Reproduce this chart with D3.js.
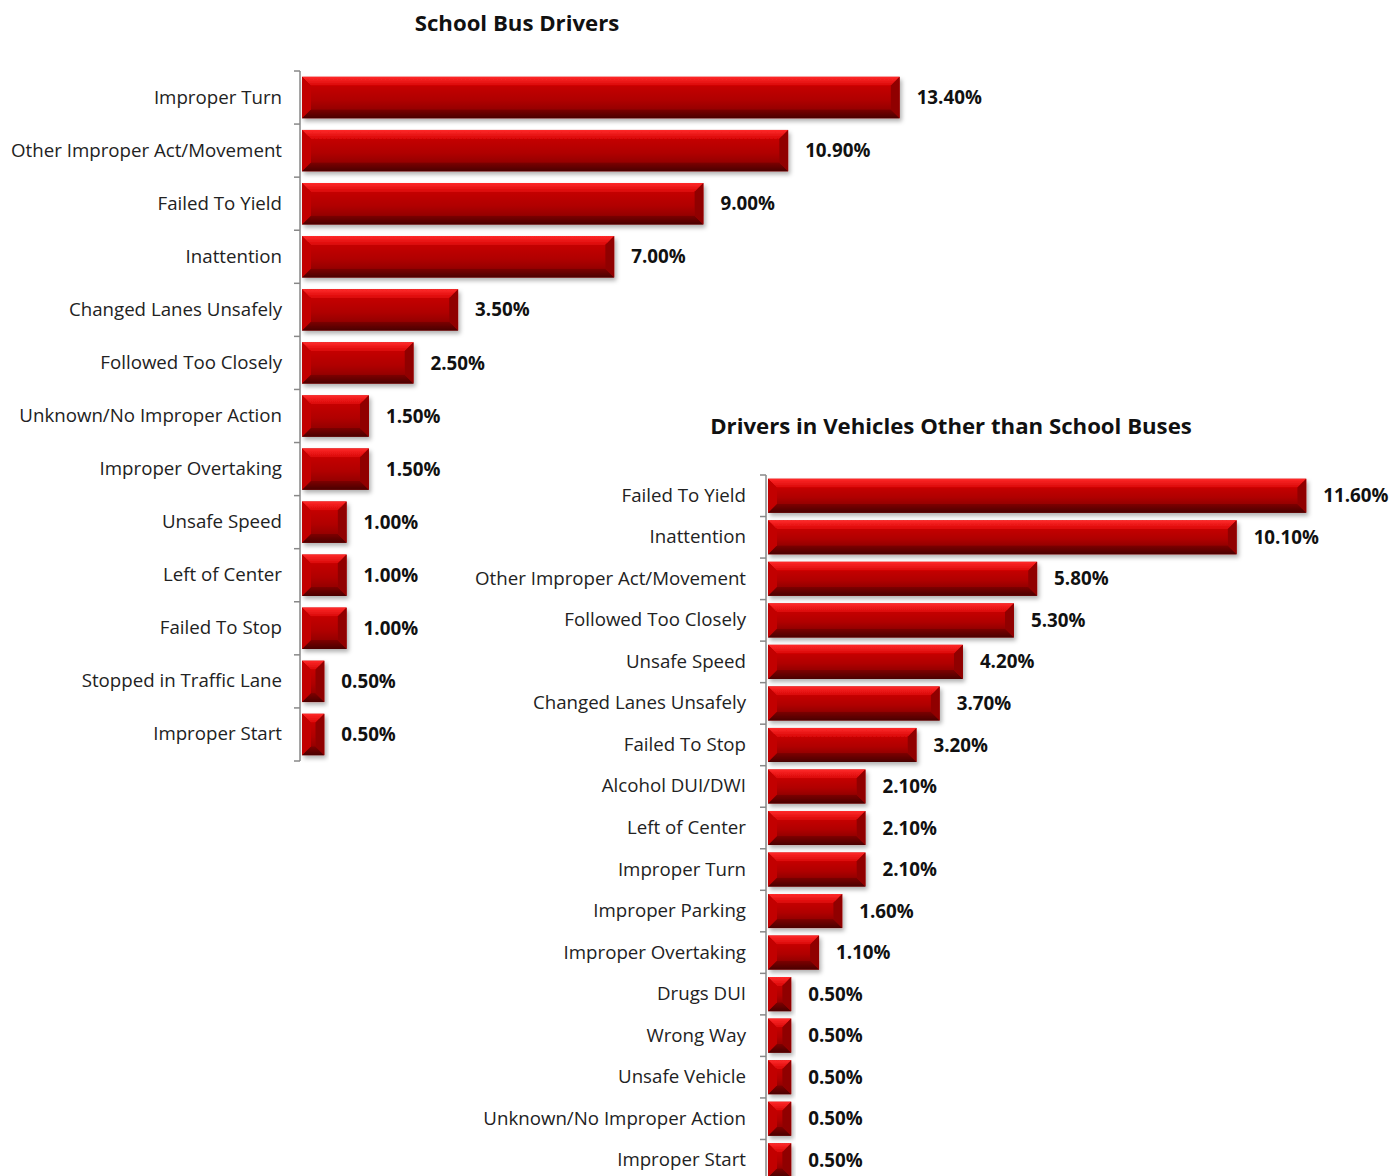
<!DOCTYPE html>
<html><head><meta charset="utf-8">
<script src="https://cdn.jsdelivr.net/npm/d3@7"></script>
<style>body{margin:0;background:#fff}svg{display:block}</style>
</head><body>
<svg id="c" width="1390" height="1176"></svg>
<script>
const busCategories = ["Improper Turn","Other Improper Act/Movement","Failed To Yield","Inattention","Changed Lanes Unsafely","Followed Too Closely","Unknown/No Improper Action","Improper Overtaking","Unsafe Speed","Left of Center","Failed To Stop","Stopped in Traffic Lane","Improper Start"];
const busValues = [13.4,10.9,9.0,7.0,3.5,2.5,1.5,1.5,1.0,1.0,1.0,0.5,0.5];
const otherCategories = ["Failed To Yield","Inattention","Other Improper Act/Movement","Followed Too Closely","Unsafe Speed","Changed Lanes Unsafely","Failed To Stop","Alcohol DUI/DWI","Left of Center","Improper Turn","Improper Parking","Improper Overtaking","Drugs DUI","Wrong Way","Unsafe Vehicle","Unknown/No Improper Action","Improper Start"];
const otherValues = [11.6,10.1,5.8,5.3,4.2,3.7,3.2,2.1,2.1,2.1,1.6,1.1,0.5,0.5,0.5,0.5,0.5];
const titles = ["School Bus Drivers","Drivers in Vehicles Other than School Buses"];

const svg = d3.select("#c");
const FONT = "'Open Sans', sans-serif";
const defs = svg.append("defs");
const g1 = defs.append("linearGradient").attr("id","mid").attr("x1",0).attr("y1",0).attr("x2",0).attr("y2",1);
g1.append("stop").attr("offset",0).attr("stop-color","#c40000");
g1.append("stop").attr("offset",0.6).attr("stop-color","#b00000");
g1.append("stop").attr("offset",1).attr("stop-color","#960000");
const g2 = defs.append("linearGradient").attr("id","top").attr("x1",0).attr("y1",0).attr("x2",0).attr("y2",1);
g2.append("stop").attr("offset",0).attr("stop-color","#ff2a2a");
g2.append("stop").attr("offset",1).attr("stop-color","#d80606");
const g3 = defs.append("linearGradient").attr("id","bot").attr("x1",0).attr("y1",0).attr("x2",0).attr("y2",1);
g3.append("stop").attr("offset",0).attr("stop-color","#7e0000");
g3.append("stop").attr("offset",1).attr("stop-color","#4a0505");
const f = defs.append("filter").attr("id","sh").attr("x","-10%").attr("y","-20%").attr("width","130%").attr("height","160%");
f.append("feDropShadow").attr("dx",2).attr("dy",3).attr("stdDeviation",2).attr("flood-color","#000").attr("flood-opacity",0.3);

function chart(cfg){
  const {cats, vals, axisX, top, bottom, pxPerUnit, pad, title, titleX, titleY, labelGap} = cfg;
  const g = svg.append("g");
  const y = d3.scaleBand().domain(cats).range([top,bottom]).paddingInner(pad).paddingOuter(pad/2);
  const x = d3.scaleLinear().domain([0,1]).range([axisX+2, axisX+2+pxPerUnit]);
  g.append("text").attr("x",titleX).attr("y",titleY).attr("text-anchor","middle")
    .attr("font-family",FONT).attr("font-weight","bold").attr("font-size",22.2).attr("fill","#111").text(title);
  const ax = d3.axisLeft(y).tickSize(0).tickPadding(labelGap);
  const axG = g.append("g").attr("transform",`translate(${axisX},0)`).call(ax);
  axG.select(".domain").remove();
  axG.selectAll("text").attr("font-family",FONT).attr("font-size",18.7).attr("fill","#222");
  g.append("line").attr("x1",axisX).attr("x2",axisX).attr("y1",top).attr("y2",bottom).attr("stroke","#888").attr("stroke-width",1.5);
  const bounds = d3.range(cats.length+1).map(i=>top + i*y.step());
  g.selectAll(".tk").data(bounds).join("line").attr("x1",axisX-6).attr("x2",axisX).attr("y1",d=>d).attr("y2",d=>d).attr("stroke","#888").attr("stroke-width",1.5);
  const bars = g.selectAll(".bar").data(cats.map((c,i)=>({c,v:vals[i]}))).join("g").attr("filter","url(#sh)");
  bars.each(function(d){
    const s = d3.select(this);
    const x0 = x(0), x1 = x(d.v), y0 = y(d.c), y1 = y0 + y.bandwidth();
    const w = x1-x0, h = y1-y0;
    const b = Math.min(9, w/2, h/3);
    s.append("rect").attr("x",x0).attr("y",y0).attr("width",w).attr("height",h).attr("fill","url(#mid)");
    s.append("polygon").attr("points",[[x0,y0],[x1,y0],[x1-b,y0+b],[x0+b,y0+b]].join(" ")).attr("fill","url(#top)");
    s.append("polygon").attr("points",[[x0,y1],[x1,y1],[x1-b,y1-b],[x0+b,y1-b]].join(" ")).attr("fill","url(#bot)");
    s.append("polygon").attr("points",[[x0,y0],[x0+b,y0+b],[x0+b,y1-b],[x0,y1]].join(" ")).attr("fill","#c20404");
    s.append("polygon").attr("points",[[x1,y0],[x1-b,y0+b],[x1-b,y1-b],[x1,y1]].join(" ")).attr("fill","#900000");
    s.append("rect").attr("x",x0+b).attr("y",y0+b).attr("width",Math.max(0,w-2*b)).attr("height",h-2*b).attr("fill","url(#mid)");
  });
  g.selectAll(".val").data(cats.map((c,i)=>({c,v:vals[i]}))).join("text")
    .attr("x",d=>x(d.v)+17).attr("y",d=>y(d.c)+y.bandwidth()/2).attr("dy","0.35em")
    .attr("font-family",FONT).attr("font-weight","bold").attr("font-size",18.8).attr("fill","#111")
    .text(d=>d3.format(".2f")(d.v)+"%");
}

chart({cats:busCategories, vals:busValues, axisX:300, top:71, bottom:761, pxPerUnit:44.6, pad:0.22,
  title:titles[0], titleX:517, titleY:31, labelGap:18});
chart({cats:otherCategories, vals:otherValues, axisX:766, top:475, bottom:1181, pxPerUnit:46.4, pad:0.18,
  title:titles[1], titleX:951, titleY:434, labelGap:20});
</script>
</body></html>
